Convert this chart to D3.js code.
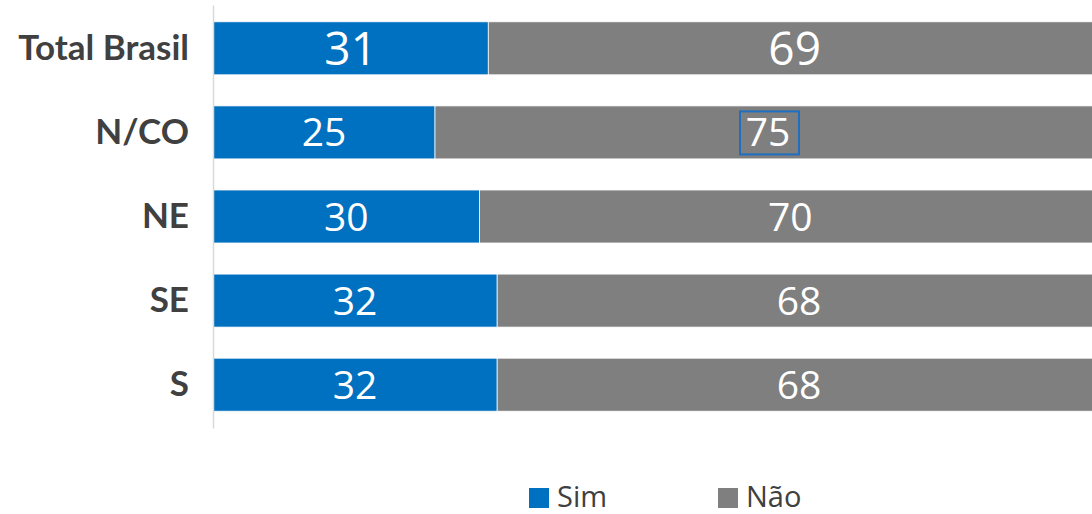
<!DOCTYPE html>
<html>
<head>
<meta charset="utf-8">
<script src="https://cdn.jsdelivr.net/npm/d3@7"></script>
<style>
  body { margin: 0; background: #fff; }
  svg { display: block; }
</style>
</head>
<body>
<script>
const categories = ['Total Brasil', 'N/CO', 'NE', 'SE', 'S'];
const simValues = [31, 25, 30, 32, 32];
const naoValues = [69, 75, 70, 68, 68];
const seriesNames = ['Sim', 'Não'];
const colors = ['#0070c0', '#7f7f7f'];

const w = 1092;
const h = 514;

const rows = categories.map((c, i) => ({ cat: c, Sim: simValues[i], 'Não': naoValues[i] }));
const stack = d3.stack().keys(seriesNames)(rows);

const xScale = d3.scaleLinear().domain([0, 100]).range([213, 1101]);
const yScale = d3.scaleBand().domain(categories).range([5, 428])
  .paddingInner(0.37).paddingOuter(0.2);

const svg = d3.select('body').append('svg')
  .attr('width', w)
  .attr('height', h);

// segments
const layers = svg.selectAll('g.layer')
  .data(stack)
  .enter()
  .append('g')
  .attr('class', 'layer')
  .attr('fill', (d, i) => colors[i]);

layers.selectAll('rect')
  .data(d => d)
  .enter()
  .append('rect')
  .attr('x', d => xScale(d[0]))
  .attr('y', d => yScale(d.data.cat))
  .attr('width', d => xScale(d[1]) - xScale(d[0]))
  .attr('height', yScale.bandwidth())
  .attr('stroke', '#fff')
  .attr('stroke-width', 0.75);

// value labels
layers.selectAll('text')
  .data(d => d)
  .enter()
  .append('text')
  .attr('x', d => (xScale(d[0]) + xScale(d[1])) / 2)
  .attr('y', d => yScale(d.data.cat) + yScale.bandwidth() / 2)
  .attr('dy', '0.36em')
  .attr('text-anchor', 'middle')
  .attr('fill', '#fff')
  .style('font-family', '"Open Sans", sans-serif')
  .style('font-size', d => d.data.cat === 'Total Brasil' ? '46px' : '39px')
  .text(d => d[1] - d[0]);

// selection box around the N/CO "Não" label
const naoLayer = stack[1];
const boxed = naoLayer[categories.indexOf('N/CO')];
const bx = (xScale(boxed[0]) + xScale(boxed[1])) / 2;
const by = yScale('N/CO') + yScale.bandwidth() / 2;
svg.append('rect')
  .attr('x', bx - 28)
  .attr('y', by - 21)
  .attr('width', 59)
  .attr('height', 43)
  .attr('fill', 'none')
  .attr('stroke', '#1f6fc0')
  .attr('stroke-width', 2);

// category axis
const yAxis = d3.axisLeft(yScale).tickSize(0).tickSizeOuter(0).tickPadding(24);
const gy = svg.append('g')
  .attr('transform', 'translate(213,0)')
  .call(yAxis);
gy.select('.domain').attr('stroke', '#d9d9d9').attr('stroke-width', 1.5);
gy.selectAll('text')
  .attr('fill', '#404040')
  .style('font-family', 'Lato, sans-serif')
  .style('font-weight', 'bold')
  .style('font-size', '35px');

// legend
const legendX = [529, 718];
const legend = svg.selectAll('g.legend')
  .data(seriesNames)
  .enter()
  .append('g')
  .attr('class', 'legend')
  .attr('transform', (d, i) => `translate(${legendX[i]},488)`);
legend.append('rect')
  .attr('width', 20)
  .attr('height', 20)
  .attr('fill', (d, i) => colors[i]);
legend.append('text')
  .attr('x', 28)
  .attr('y', 19)
  .attr('fill', '#404040')
  .style('font-family', '"Open Sans", sans-serif')
  .style('font-size', '29px')
  .text(d => d);
</script>
</body>
</html>
